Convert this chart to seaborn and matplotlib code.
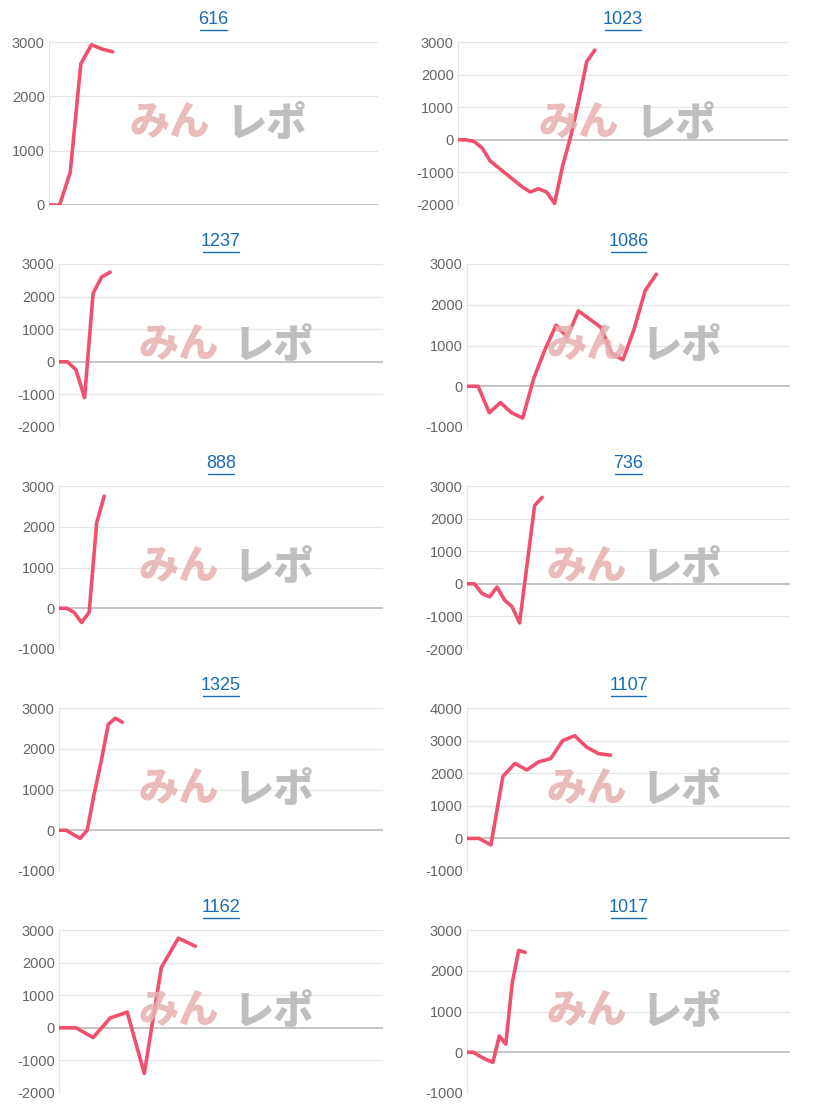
import matplotlib
matplotlib.use("Agg")
import matplotlib.pyplot as plt
import seaborn as sns
import pandas as pd

sns.set_style("white")
plt.rcParams['font.family'] = ['Liberation Sans', 'DejaVu Sans', 'Noto Sans CJK JP']

titles = ["616", "1023", "1237", "1086", "888", "736", "1325", "1107", "1162", "1017"]
s616 = [0, 0, 600, 2600, 2950, 2870, 2820]
s1023 = [0, 0, -50, -250, -650, -850, -1050, -1250, -1450, -1600, -1500, -1600, -1950, -800, 100, 1200, 2400, 2750]
s1237 = [0, 0, -250, -1100, 2100, 2600, 2750]
s1086 = [0, 0, -650, -400, -650, -780, 200, 900, 1500, 1200, 1850, 1650, 1450, 800, 650, 1400, 2350, 2750]
s888 = [0, 0, -100, -350, -100, 2100, 2750]
s736 = [0, 0, -300, -400, -100, -500, -700, -1200, 600, 2400, 2650]
s1325 = [0, 0, -100, -200, 0, 900, 1700, 2600, 2750, 2650]
s1107 = [0, 0, -200, 1900, 2300, 2100, 2350, 2450, 3000, 3150, 2800, 2600, 2550]
s1162 = [0, 0, -300, 300, 480, -1400, 1850, 2750, 2500]
s1017 = [0, 0, -100, -180, -250, 400, 200, 1700, 2500, 2450]
series = [s616, s1023, s1237, s1086, s888, s736, s1325, s1107, s1162, s1017]
ylims = [(0, 3000), (-2000, 3000), (-2000, 3000), (-1000, 3000), (-1000, 3000),
         (-2000, 3000), (-1000, 3000), (-1000, 4000), (-2000, 3000), (-1000, 3000)]
xmaxs = [31, 41, 38, 29, 43, 43, 46, 27, 19, 50]

W, H = 818, 1115
fig = plt.figure(figsize=(W / 100, H / 100), dpi=100)
for i, (t, s, yl, xm) in enumerate(zip(titles, series, ylims, xmaxs)):
    row, col = divmod(i, 2)
    if col == 0:
        x0 = 49 if i == 0 else 59
        x1 = 378 if i == 0 else 383
    else:
        x0, x1 = (458, 788) if i == 1 else (467, 790)
    top = 42 + 222 * row
    bot = 205 + 222 * row
    ax = fig.add_axes([x0 / W, 1 - bot / H, (x1 - x0) / W, (bot - top) / H])
    df = pd.DataFrame({"x": range(len(s)), "y": s})
    ax.set_xlim(0, xm)
    ax.set_ylim(*yl)
    ticks = list(range(yl[0], yl[1] + 1, 1000))
    ax.set_yticks(ticks)
    ax.set_yticklabels([str(v) for v in ticks], fontsize=10.5, color="#666666")
    ax.set_xticks([])
    for v in ticks:
        ax.axhline(v, color="#bbbbbb" if v == 0 else "#e6e6e6", lw=1.2 if v == 0 else 0.9, zorder=0)
    for sp in ["top", "right", "bottom"]:
        ax.spines[sp].set_visible(False)
    ax.spines["left"].set_color("#e6e6e6")
    ax.tick_params(axis="y", length=0, pad=3)
    sns.lineplot(data=df, x="x", y="y", ax=ax, color="#f0506e", lw=2.6, zorder=3)
    ax.text(0.245, 0.5, "みん", transform=ax.transAxes, fontsize=29, fontweight="heavy",
            fontstyle="italic", color="#e6b0b0", family=["Noto Sans CJK JP"], va="center",
            zorder=4, alpha=0.85)
    ax.text(0.54, 0.5, "レポ", transform=ax.transAxes, fontsize=29, fontweight="heavy",
            fontstyle="italic", color="#b4b4b4", family=["Noto Sans CJK JP"], va="center",
            zorder=4, alpha=0.85)
    ax.set_xlabel("")
    ax.set_ylabel("")
    cx = (x0 + x1) / 2 / W
    fig.text(cx, 1 - (top - 22) / H, t, ha="center", va="center",
             fontsize=13, color="#1a6bb5")
    tw = 0.0107 * len(t)
    fig.add_artist(plt.Line2D([cx - tw / 2, cx + tw / 2],
                              [1 - (top - 12) / H] * 2, color="#1a6bb5", lw=1))

fig.savefig("out.png", dpi=100, facecolor="white")
